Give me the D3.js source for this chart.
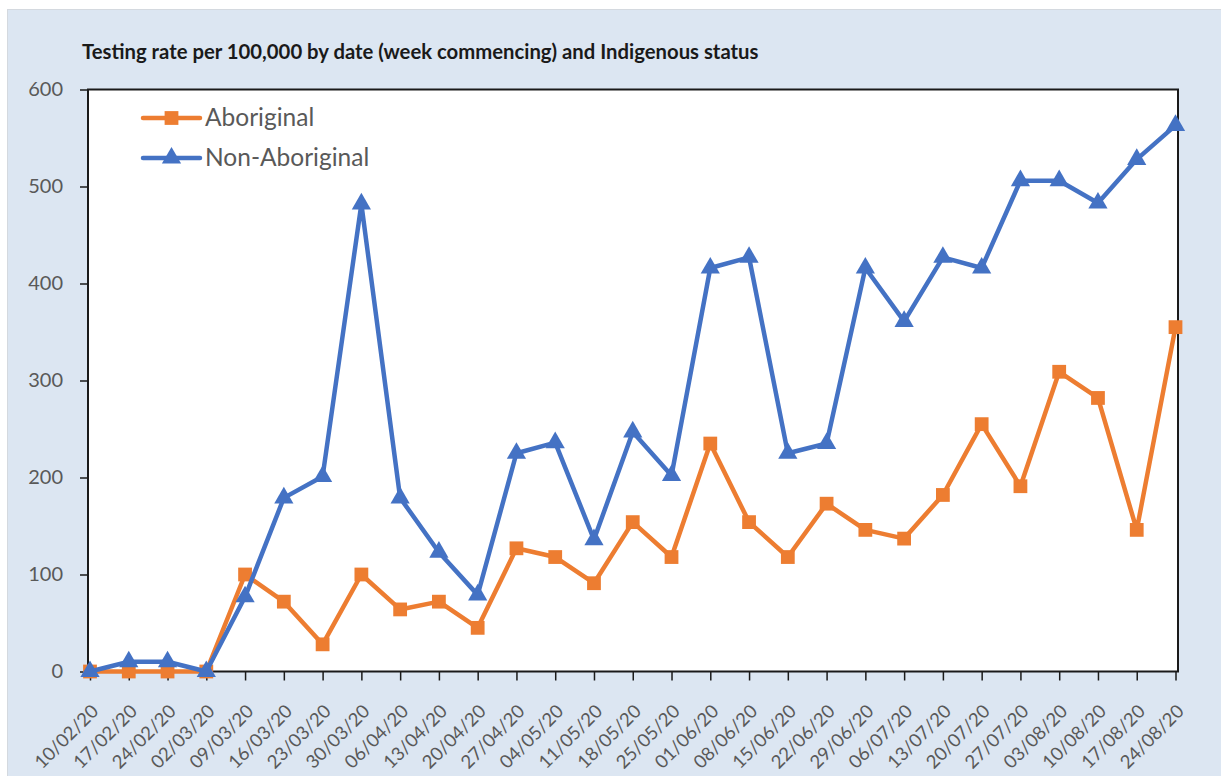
<!DOCTYPE html>
<html>
<head>
<meta charset="utf-8">
<script src="https://cdn.jsdelivr.net/npm/d3@7"></script>
<style>
  html, body { margin: 0; padding: 0; background: #ffffff; }
  svg { display: block; }
  text { font-family: Lato, "Open Sans", "Liberation Sans", sans-serif; }
</style>
</head>
<body>
<svg id="chart" width="1221" height="776"></svg>
<script>
// Weekly testing rate per 100,000 population, by Indigenous status
const weeks = ["10/02/20","17/02/20","24/02/20","02/03/20","09/03/20","16/03/20","23/03/20","30/03/20",
  "06/04/20","13/04/20","20/04/20","27/04/20","04/05/20","11/05/20","18/05/20","25/05/20",
  "01/06/20","08/06/20","15/06/20","22/06/20","29/06/20","06/07/20","13/07/20","20/07/20",
  "27/07/20","03/08/20","10/08/20","17/08/20","24/08/20"];
const aboriginal = [0,0,0,0,100,72,28,100,64,72,45,127,118,91,154,118,
  235,154,118,173,146,137,182,255,191,309,282,146,355];
const nonAboriginal = [0,10,10,0,77,179,201,482,179,123,79,225,236,136,247,202,
  416,427,225,235,416,361,427,416,506,506,483,528,563];
const yTicks = [0,100,200,300,400,500,600];
const seriesNames = ["Aboriginal","Non-Aboriginal"];
const seriesColors = ["#ED7D31","#4472C4"];
const titleText = "Testing rate per 100,000 by date (week commencing) and Indigenous status";

const svg = d3.select("#chart");
const W = 1221, H = 776;
const plot = {left: 88, right: 1178, top: 89.5, bottom: 671.5};

// outer chart area
svg.append("rect")
  .attr("x", 7.5).attr("y", 9.5)
  .attr("width", W).attr("height", H)
  .attr("fill", "#dce6f2")
  .attr("stroke", "#d4d9df").attr("stroke-width", 1);

// title
svg.append("text")
  .attr("x", 82).attr("y", 59)
  .attr("font-size", 20.3).attr("font-weight", 700)
  .attr("fill", "#1a1a1a")
  .text(titleText);

// plot background
svg.append("rect")
  .attr("x", plot.left).attr("y", plot.top)
  .attr("width", plot.right - plot.left).attr("height", plot.bottom - plot.top)
  .attr("fill", "#ffffff");

const x = d3.scalePoint().domain(weeks).range([90, 1175.5]);
const y = d3.scaleLinear().domain([0, 600]).range([plot.bottom, plot.top]);

// y axis
const yAxis = svg.append("g")
  .attr("transform", `translate(${plot.left},0)`)
  .call(d3.axisLeft(y).tickValues(yTicks).tickSize(8).tickPadding(17).tickFormat(d3.format("d")));
yAxis.select(".domain").remove();
yAxis.selectAll(".tick line").attr("stroke", "#1a1a1a").attr("stroke-width", 1.5);
yAxis.selectAll(".tick text")
  .attr("font-size", 20).attr("fill", "#595959")
  .attr("font-family", "Lato, 'Open Sans', sans-serif");

// x axis
const xAxis = svg.append("g")
  .attr("transform", `translate(0,${plot.bottom})`)
  .call(d3.axisBottom(x).tickSize(9).tickSizeOuter(0));
xAxis.select(".domain").remove();
xAxis.selectAll(".tick line").attr("stroke", "#1a1a1a").attr("stroke-width", 1.5);
xAxis.selectAll(".tick text")
  .attr("font-size", 18.5).attr("fill", "#595959")
  .attr("font-family", "Lato, 'Open Sans', sans-serif")
  .attr("text-anchor", "end")
  .attr("dy", null).attr("y", null)
  .attr("transform", "translate(9,41) rotate(-45)");

// plot frame
svg.append("rect")
  .attr("x", plot.left).attr("y", plot.top)
  .attr("width", plot.right - plot.left).attr("height", plot.bottom - plot.top)
  .attr("fill", "none").attr("stroke", "#1a1a1a").attr("stroke-width", 2);

const series = [
  {name: seriesNames[0], values: aboriginal, color: seriesColors[0], marker: d3.symbolSquare, size: 190},
  {name: seriesNames[1], values: nonAboriginal, color: seriesColors[1], marker: d3.symbolTriangle, size: 160}
];

const line = d3.line().x((d, i) => x(weeks[i])).y(d => y(d));

series.forEach(s => {
  const g = svg.append("g");
  g.append("path")
    .datum(s.values)
    .attr("d", line)
    .attr("fill", "none")
    .attr("stroke", s.color)
    .attr("stroke-width", 4.5)
    .attr("stroke-linejoin", "round");
  g.selectAll("path.mk")
    .data(s.values)
    .join("path")
    .attr("class", "mk")
    .attr("d", d3.symbol().type(s.marker).size(s.size))
    .attr("transform", (d, i) => `translate(${x(weeks[i])},${y(d)})`)
    .attr("fill", s.color);
});

// legend
const legend = svg.append("g");
series.forEach((s, i) => {
  const ly = 118 + i * 40;
  legend.append("line")
    .attr("x1", 143).attr("x2", 200).attr("y1", ly).attr("y2", ly)
    .attr("stroke", s.color).attr("stroke-width", 4.5).attr("stroke-linecap", "round");
  legend.append("path")
    .attr("d", d3.symbol().type(s.marker).size(s.size)())
    .attr("transform", `translate(171.5,${ly})`)
    .attr("fill", s.color);
  legend.append("text")
    .attr("x", 205).attr("y", ly + 8)
    .attr("font-size", 24.5).attr("fill", "#595959")
    .text(s.name);
});
</script>
</body>
</html>
